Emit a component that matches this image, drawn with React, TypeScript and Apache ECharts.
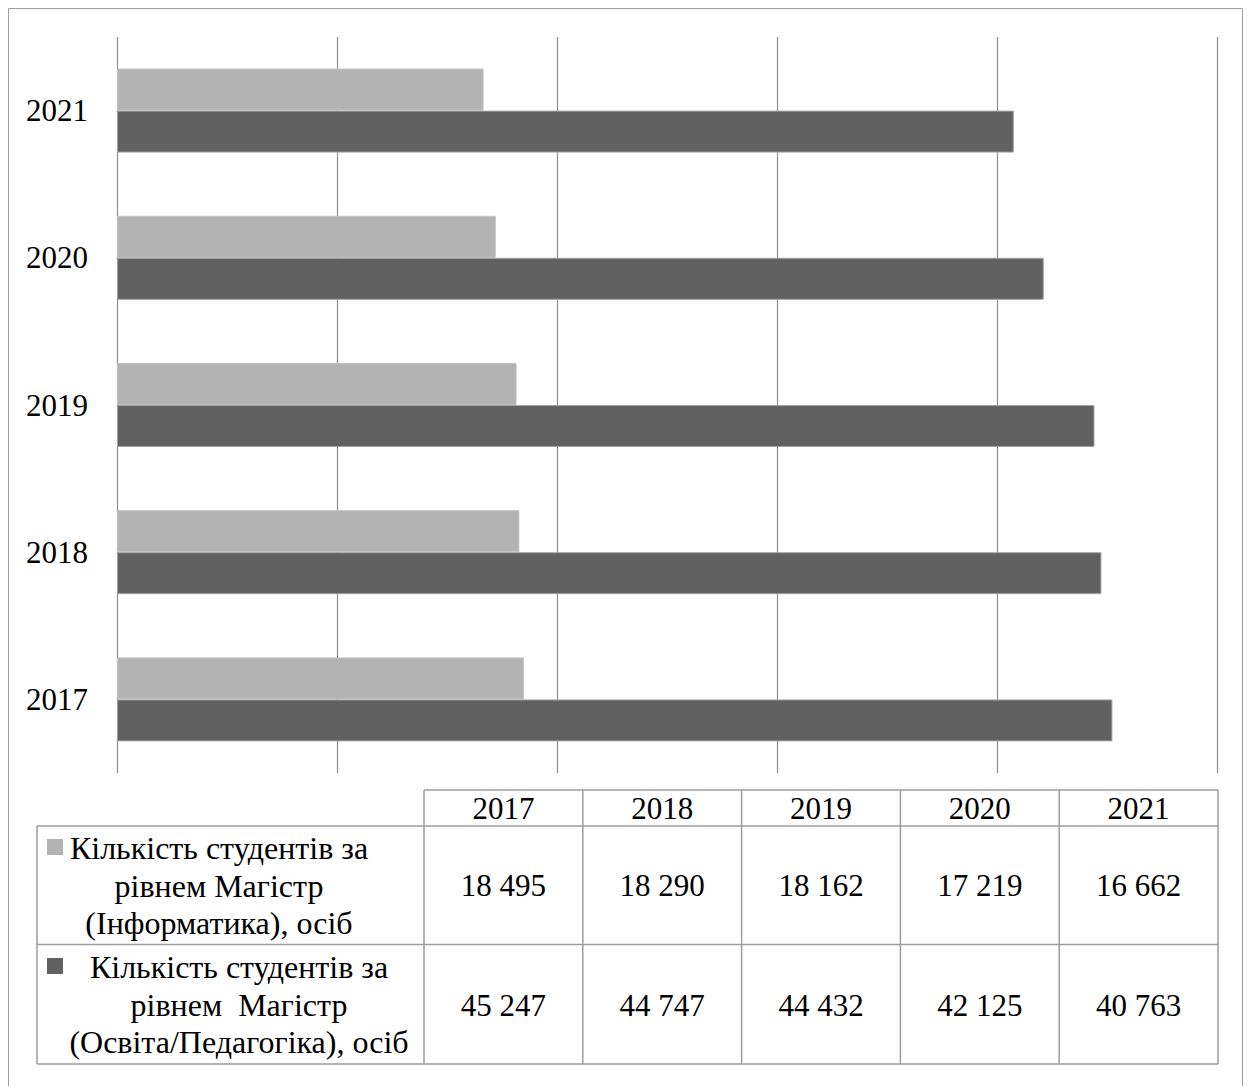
import React, { useEffect, useRef } from "react";
import * as echarts from "echarts";

const years = ["2017", "2018", "2019", "2020", "2021"];
const informatics = [18495, 18290, 18162, 17219, 16662];
const education = [45247, 44747, 44432, 42125, 40763];
const seriesNames = [
  "Кількість студентів за рівнем Магістр (Інформатика), осіб",
  "Кількість студентів за рівнем Магістр (Освіта/Педагогіка), осіб",
];
const rowLabelLines = [
  ["Кількість студентів за", "рівнем Магістр", "(Інформатика), осіб"],
  ["Кількість студентів за", "рівнем  Магістр", "(Освіта/Педагогіка), осіб"],
];
const axisMin = 0;
const axisMax = 50000;
const axisInterval = 10000;

const LIGHT = "#b3b3b3";
const DARK = "#616161";
const FONT = "Liberation Serif";

function fmt(v: number): string {
  return String(v).replace(/\B(?=(\d{3})+(?!\d))/g, " ");
}

export default function App() {
  const ref = useRef<HTMLDivElement>(null);
  useEffect(() => {
    document.body.style.margin = "0";
    if (!ref.current) return;
    const chart = echarts.init(ref.current, undefined, { renderer: "svg" });

    const lineColor = "#9d9d9d";
    const tableLeft = 37;
    const colStart = 424;
    const colW = 158.8;
    const tableRight = colStart + colW * years.length;
    const headerTop = 790;
    const headerBottom = 826;
    const row1Bottom = 944.5;
    const row2Bottom = 1064;

    const g: any[] = [];
    g.push({
      type: "rect",
      shape: { x: 8.5, y: 8.5, width: 1234, height: 1100 },
      style: { fill: "none", stroke: "#a0a0a0", lineWidth: 1 },
      silent: true,
    });
    const hl = (x1: number, x2: number, y: number) =>
      g.push({
        type: "line",
        shape: { x1, y1: y, x2, y2: y },
        style: { stroke: lineColor, lineWidth: 1.5 },
        silent: true,
      });
    const vl = (x: number, y1: number, y2: number) =>
      g.push({
        type: "line",
        shape: { x1: x, y1, x2: x, y2 },
        style: { stroke: lineColor, lineWidth: 1.5 },
        silent: true,
      });
    hl(colStart, tableRight, headerTop);
    hl(tableLeft, tableRight, headerBottom);
    hl(tableLeft, tableRight, row1Bottom);
    hl(tableLeft, tableRight, row2Bottom);
    vl(tableLeft, headerBottom, row2Bottom);
    for (let i = 0; i <= years.length; i++) {
      vl(colStart + i * colW, headerTop, row2Bottom);
    }
    const txt = (text: string, x: number, y: number, size = 31) =>
      g.push({
        type: "text",
        style: {
          text,
          x,
          y,
          fill: "#000",
          fontSize: size,
          fontFamily: FONT,
          textAlign: "center",
          textVerticalAlign: "middle",
        },
        silent: true,
      });
    years.forEach((y, i) => {
      const cx = colStart + colW * (i + 0.5);
      txt(y, cx, 808);
      txt(fmt(informatics[i]), cx, 885);
      txt(fmt(education[i]), cx, 1005);
    });
    const rowLineY = [
      [848, 886, 923],
      [967, 1005, 1042],
    ];
    const rowCenters = [219, 239];
    const markerColors = [LIGHT, DARK];
    const markerY = [839, 958];
    rowLabelLines.forEach((lines, r) => {
      g.push({
        type: "rect",
        shape: { x: 47, y: markerY[r], width: 16, height: 16 },
        style: { fill: markerColors[r] },
        silent: true,
      });
      lines.forEach((l, k) => txt(l, rowCenters[r], rowLineY[r][k], 32));
    });

    chart.setOption({
      animation: false,
      backgroundColor: "#fff",
      grid: { left: 117, right: 33, top: 37, bottom: 313, containLabel: false },
      xAxis: {
        type: "value",
        min: axisMin,
        max: axisMax,
        interval: axisInterval,
        axisLabel: { show: false },
        axisLine: { show: false },
        axisTick: { show: false },
        splitLine: { show: true, lineStyle: { color: "#8f8f8f", width: 1.2 } },
      },
      yAxis: {
        type: "category",
        data: years,
        axisLine: { show: false },
        axisTick: { show: false },
        axisLabel: {
          color: "#000",
          fontSize: 31,
          fontFamily: FONT,
          margin: 29,
        },
      },
      tooltip: { show: false },
      series: [
        {
          name: seriesNames[0],
          type: "bar",
          data: informatics,
          barWidth: 42,
          barGap: "0%",
          itemStyle: { color: LIGHT, borderColor: "#c2c2c2", borderWidth: 1 },
        },
        {
          name: seriesNames[1],
          type: "bar",
          data: education,
          barWidth: 42,
          barGap: "0%",
          itemStyle: { color: DARK, borderColor: "#a3a3a3", borderWidth: 1 },
        },
      ],
      graphic: g,
    });
    return () => chart.dispose();
  }, []);
  return <div ref={ref} style={{ width: 1250, height: 1086, background: "#fff" }} />;
}
